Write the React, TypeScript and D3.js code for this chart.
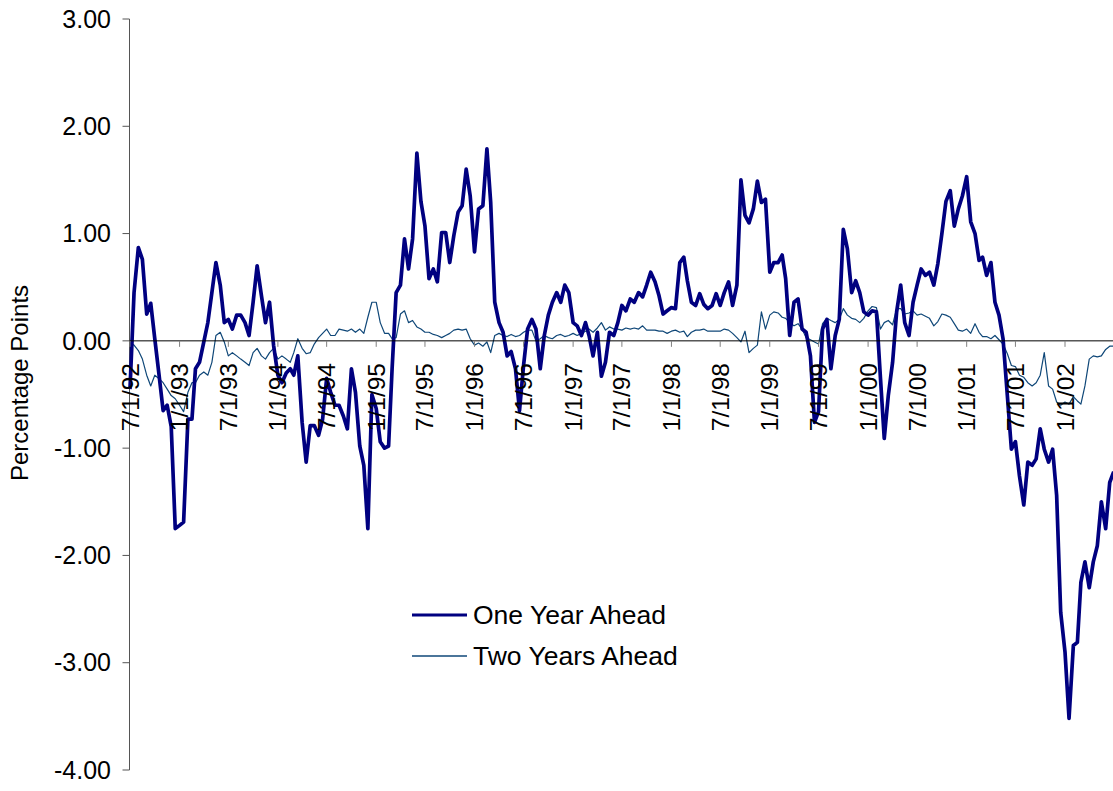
import React from "react";
import * as d3 from "d3";

const WIDTH = 1113;
const HEIGHT = 791;

// observations on the 1st and 16th of each month, starting 7/1/92
const oneYearAhead = [
  -0.45, 0.45, 0.87, 0.76, 0.25, 0.35, 0.02, -0.3, -0.65, -0.6, -0.8, -1.75,
  -1.72, -1.69, -0.73, -0.73, -0.26, -0.2, -0.01, 0.17, 0.45, 0.73, 0.52, 0.17,
  0.2, 0.11, 0.24, 0.24, 0.17, 0.05, 0.36, 0.7, 0.42, 0.17, 0.36, -0.04,
  -0.32, -0.39, -0.3, -0.26, -0.32, -0.14, -0.76, -1.13, -0.79, -0.79, -0.88, -0.73,
  -0.35, -0.48, -0.6, -0.6, -0.7, -0.82, -0.26, -0.48, -0.98, -1.16, -1.75, -0.5,
  -0.63, -0.94, -1.0, -0.98, -0.26, 0.45, 0.52, 0.95, 0.67, 0.95, 1.75, 1.3,
  1.07, 0.58, 0.67, 0.55, 1.01, 1.01, 0.73, 0.98, 1.2, 1.26, 1.6, 1.35,
  0.83, 1.23, 1.26, 1.79, 1.29, 0.36, 0.17, 0.08, -0.14, -0.1, -0.26, -0.65,
  -0.23, 0.11, 0.2, 0.11, -0.26, 0.05, 0.24, 0.36, 0.45, 0.36, 0.52, 0.45,
  0.17, 0.14, 0.05, 0.17, 0.05, -0.14, 0.08, -0.33, -0.2, 0.08, 0.05, 0.17,
  0.33, 0.28, 0.39, 0.36, 0.45, 0.41, 0.52, 0.64, 0.55, 0.42, 0.25, 0.28,
  0.31, 0.3, 0.73, 0.78, 0.56, 0.36, 0.33, 0.44, 0.34, 0.3, 0.33, 0.44,
  0.33, 0.45, 0.55, 0.33, 0.52, 1.5, 1.17, 1.1, 1.23, 1.49, 1.29, 1.32,
  0.64, 0.73, 0.73, 0.8, 0.58, 0.05, 0.36, 0.39, 0.11, 0.08, -0.14, -0.76,
  -0.66, 0.11, 0.2, -0.26, 0.05, 0.2, 1.04, 0.86, 0.45, 0.56, 0.45, 0.27,
  0.24, 0.28, 0.27, -0.35, -0.91, -0.51, -0.2, 0.27, 0.52, 0.17, 0.05, 0.36,
  0.52, 0.67, 0.61, 0.64, 0.52, 0.72, 1.0, 1.3, 1.4, 1.07, 1.23, 1.35,
  1.53, 1.11, 1.0, 0.75, 0.78, 0.61, 0.73, 0.36, 0.24, 0.02, -0.51, -1.01,
  -0.94, -1.26, -1.53, -1.13, -1.16, -1.1, -0.82, -1.01, -1.13, -1.01, -1.44, -2.53,
  -2.9, -3.52, -2.84, -2.81, -2.25, -2.06, -2.3, -2.06, -1.91, -1.5, -1.75, -1.32,
  -1.22,
];

const twoYearsAhead = [
  -0.02, -0.04, -0.09, -0.17, -0.32, -0.42, -0.32, -0.35, -0.39, -0.45, -0.51, -0.54,
  -0.6, -0.66, -0.48, -0.39, -0.39, -0.32, -0.29, -0.32, -0.2, 0.05, 0.08, -0.01,
  -0.14, -0.11, -0.14, -0.17, -0.2, -0.23, -0.11, -0.07, -0.14, -0.17, -0.11, -0.07,
  -0.17, -0.14, -0.17, -0.2, -0.11, 0.02, -0.07, -0.12, -0.11, -0.03, 0.03, 0.07,
  0.11, 0.05, 0.05, 0.11, 0.1, 0.09, 0.11, 0.08, 0.11, 0.07, 0.22, 0.36,
  0.36, 0.17, 0.07, 0.07, 0.02, 0.03, 0.25, 0.28, 0.17, 0.19, 0.13, 0.11,
  0.08, 0.08, 0.06, 0.05, 0.03, 0.05, 0.07, 0.1, 0.11, 0.1, 0.11, 0.02,
  -0.04, -0.02, -0.05, -0.01, -0.11, 0.05, 0.07, 0.05, 0.04, 0.06, 0.04, 0.05,
  0.08, 0.1, 0.1, 0.0, 0.02, 0.05, 0.03, 0.02, 0.05, 0.06, 0.04, 0.05,
  0.07, 0.05, 0.07, 0.09, 0.11, 0.08, 0.12, 0.17, 0.1, 0.13, 0.11, 0.11,
  0.1, 0.12, 0.11, 0.12, 0.11, 0.14, 0.1, 0.1, 0.1, 0.09, 0.09, 0.07,
  0.09, 0.1, 0.08, 0.09, 0.04, 0.08, 0.1, 0.1, 0.11, 0.09, 0.09, 0.09,
  0.09, 0.11, 0.1, 0.07, 0.03, -0.01, 0.09, -0.11, -0.07, -0.04, 0.27, 0.11,
  0.24, 0.27, 0.26, 0.22, 0.21, 0.17, 0.14, 0.16, 0.11, 0.03, 0.01, -0.01,
  -0.03, 0.16, 0.21, 0.19, 0.17, 0.2, 0.3, 0.24, 0.21, 0.2, 0.17, 0.21,
  0.28, 0.32, 0.31, 0.11, 0.17, 0.19, 0.15, 0.3, 0.3, 0.25, 0.26, 0.28,
  0.24, 0.25, 0.23, 0.21, 0.14, 0.18, 0.25, 0.24, 0.22, 0.16, 0.1, 0.09,
  0.11, 0.07, 0.16, 0.08, 0.04, 0.04, 0.02, 0.05, 0.01, -0.03, -0.12, -0.23,
  -0.24, -0.32, -0.34, -0.39, -0.42, -0.39, -0.32, -0.11, -0.42, -0.45, -0.57, -0.6,
  -0.57, -0.59, -0.52, -0.56, -0.59, -0.42, -0.17, -0.14, -0.15, -0.14, -0.08, -0.05,
  -0.05,
];

const xTickLabels = [
  "7/1/92", "1/1/93", "7/1/93", "1/1/94", "7/1/94", "1/1/95", "7/1/95",
  "1/1/96", "7/1/96", "1/1/97", "7/1/97", "1/1/98", "7/1/98", "1/1/99",
  "7/1/99", "1/1/00", "7/1/00", "1/1/01", "7/1/01", "1/1/02",
];

const yTicks = [3, 2, 1, 0, -1, -2, -3, -4];

const seriesNames = ["One Year Ahead", "Two Years Ahead"];
const seriesColors = ["#000080", "#0f4778"];
const seriesWidths = [3.7, 1.2];

const parseDate = d3.timeParse("%m/%d/%y");

// sample date for point i: 1st or 16th of the month
const sampleDate = (i: number) =>
  new Date(1992, 6 + Math.floor(i / 2), i % 2 === 0 ? 1 : 16);

export default function App() {
  const font = "'Liberation Sans', Arial, sans-serif";

  const x = d3
    .scaleTime()
    .domain([new Date(1992, 6, 1), new Date(2002, 0, 1)])
    .range([130, 1065]);

  const y = d3.scaleLinear().domain([-4, 3]).range([770, 19]);

  const line = d3
    .line<number>()
    .x((d, i) => x(sampleDate(i)))
    .y((d) => y(d));

  const axisX = 129.5;
  const zeroY = y(0);

  return (
    <svg
      width={WIDTH}
      height={HEIGHT}
      style={{ position: "fixed", left: 0, top: 0, background: "#fff" }}
      fontFamily={font}
    >
      {/* value axis */}
      <line x1={axisX} x2={axisX} y1={y(3)} y2={y(-4)} stroke="#555" strokeWidth={1} />
      {yTicks.map((t) => (
        <g key={t}>
          <line x1={axisX - 7} x2={axisX} y1={y(t)} y2={y(t)} stroke="#555" />
          <text
            x={111}
            y={y(t)}
            dy="0.35em"
            textAnchor="end"
            fontSize={25}
            fill="#000"
          >
            {t.toFixed(2)}
          </text>
        </g>
      ))}
      <text
        transform={`translate(28, 383) rotate(-90)`}
        textAnchor="middle"
        fontSize={24}
        fill="#000"
      >
        Percentage Points
      </text>

      {/* series */}
      <path
        d={line(twoYearsAhead) || ""}
        fill="none"
        stroke={seriesColors[1]}
        strokeWidth={seriesWidths[1]}
        strokeLinejoin="round"
      />
      <path
        d={line(oneYearAhead) || ""}
        fill="none"
        stroke={seriesColors[0]}
        strokeWidth={seriesWidths[0]}
        strokeLinejoin="round"
      />

      {/* category axis at zero */}
      <line x1={axisX} x2={WIDTH} y1={zeroY} y2={zeroY} stroke="#000" strokeWidth={1} />
      {xTickLabels.map((lbl) => {
        const tx = x(parseDate(lbl) as Date);
        return (
          <g key={lbl}>
            <line x1={tx} x2={tx} y1={zeroY} y2={zeroY + 6} stroke="#808080" />
            <text
              transform={`translate(${tx + 8.5}, 363) rotate(-90)`}
              textAnchor="end"
              fontSize={24.5}
              fill="#000"
            >
              {lbl}
            </text>
          </g>
        );
      })}

      {/* legend */}
      {seriesNames.map((name, i) => (
        <g key={name} transform={`translate(412, ${615 + i * 41})`}>
          <line x1={0} x2={55} y1={0} y2={0} stroke={seriesColors[i]} strokeWidth={i === 0 ? 3 : 1.5} />
          <text x={61} y={0} dy="0.35em" fontSize={26.5} fill="#000">
            {name}
          </text>
        </g>
      ))}
    </svg>
  );
}
